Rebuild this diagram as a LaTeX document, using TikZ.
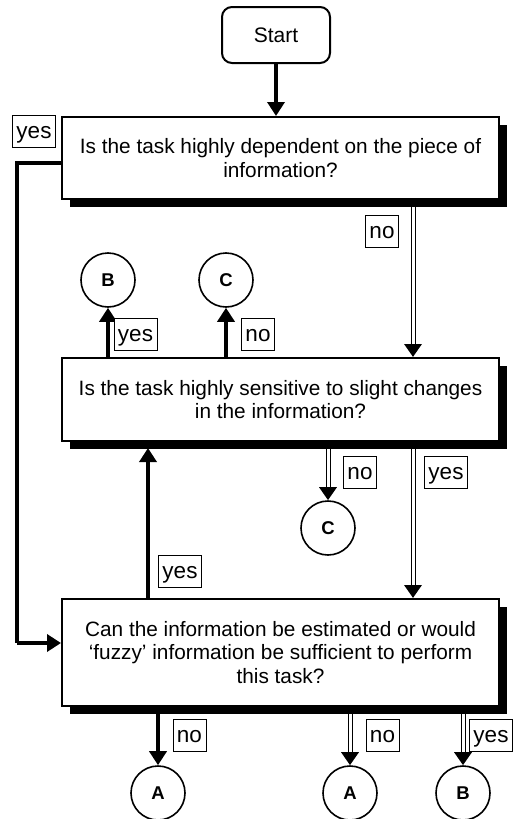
\documentclass[tikz,border=0pt]{standalone}
\usepackage{fontspec}
\setmainfont{Liberation Sans}
\usetikzlibrary{arrows.meta,shadows,decorations.markings,backgrounds}
\begin{document}
\begin{tikzpicture}[x=1pt,y=-1pt,
  qbox/.style={draw, line width=2pt, fill=white, minimum width=437pt, inner sep=0pt,
    align=center, font=\fontsize{20.8}{23.5}\selectfont,
    drop shadow={shadow xshift=8pt, shadow yshift=-8pt, fill=black, opacity=1}},
  startbox/.style={draw, line width=2pt, fill=white, rounded corners=10pt,
    minimum width=108pt, minimum height=56pt, font=\fontsize{21}{24}\selectfont},
  conn/.style={draw, circle, line width=1.6pt, fill=white, minimum size=54pt, inner sep=0pt,
    font=\fontsize{18.5}{20}\selectfont\bfseries},
  lbl/.style={draw, line width=0.9pt, fill=white, inner xsep=4pt, minimum height=32pt,
    inner ysep=0pt, text height=14pt, text depth=0pt, font=\fontsize{22.5}{24}\selectfont},
  thickarrow/.style={line width=4.5pt, -{Triangle[length=14pt,width=17pt]}},
  thickline/.style={line width=4.5pt},
  dblarrow/.style={double, double distance=3pt, line width=1pt, shorten >=11pt,
    postaction={decorate, decoration={markings,
      mark=at position 1 with {\arrow{Triangle[length=13pt,width=17pt]}}}}}
]
\useasboundingbox (0,0) rectangle (512,819);

% nodes
\node[startbox] (start) at (276,35) {Start};
\node[qbox, minimum height=82pt] (q1) at (280.5,158)
  {Is the task highly dependent on the piece of\\information?};
\node[qbox, minimum height=83pt] (q2) at (280.5,399.5)
  {Is the task highly sensitive to slight changes\\in the information?};
\node[qbox, minimum height=107pt] (q3) at (280.5,652.5)
  {Can the information be estimated or would\\‘fuzzy’ information be sufficient to perform\\this task?};

\node[conn] (b1) at (108,280) {B};
\node[conn] (c1) at (226,280) {C};
\node[conn] (c2) at (328,528) {C};
\node[conn] (a1) at (158,793) {A};
\node[conn] (a2) at (350,793) {A};
\node[conn] (b2) at (463,793) {B};

% helper coordinates
\coordinate (xr) at (413,0);
\coordinate (xup) at (148,0);
\coordinate (yl1) at (0,163);
\coordinate (yl3) at (0,643);
\coordinate (tl) at (17,163);
\coordinate (bl) at (17,643);

% connectors
\begin{scope}[on background layer]
  \draw[thickarrow] (start.south) -- (q1.north -| start);
  \draw[thickline] (q1.west |- yl1) -- (tl) -- (bl);
  \draw[thickarrow] (bl) -- (q3.west |- yl3);
  \draw[dblarrow] (q1.south -| xr) -- (q2.north -| xr);
  \draw[thickarrow] (q2.north -| b1) -- (b1.south);
  \draw[thickarrow] (q2.north -| c1) -- (c1.south);
  \draw[dblarrow] (q2.south -| c2) -- (c2.north);
  \draw[dblarrow] (q2.south -| xr) -- (q3.north -| xr);
  \draw[thickarrow, shorten >=6pt] (q3.north -| xup) -- (q2.south -| xup);
  \draw[thickarrow] (q3.south -| a1) -- (a1.north);
  \draw[dblarrow] (q3.south -| a2) -- (a2.north);
  \draw[dblarrow] (q3.south -| b2) -- (b2.north);
\end{scope}

% labels
\node[lbl] (l1) at (34,131.5) {yes};
\node[lbl] (l2) at (382,231.5) {no};
\node[lbl] (l3) at (135.5,334) {yes};
\node[lbl] (l4) at (258,334) {no};
\node[lbl] (l5) at (360,472.5) {no};
\node[lbl] (l6) at (446,472.5) {yes};
\node[lbl] (l7) at (180,571) {yes};
\node[lbl] (l8) at (189.5,735.5) {no};
\node[lbl] (l9) at (382.5,735.5) {no};
\node[lbl] (l10) at (491,735.5) {yes};
\end{tikzpicture}
\end{document}
